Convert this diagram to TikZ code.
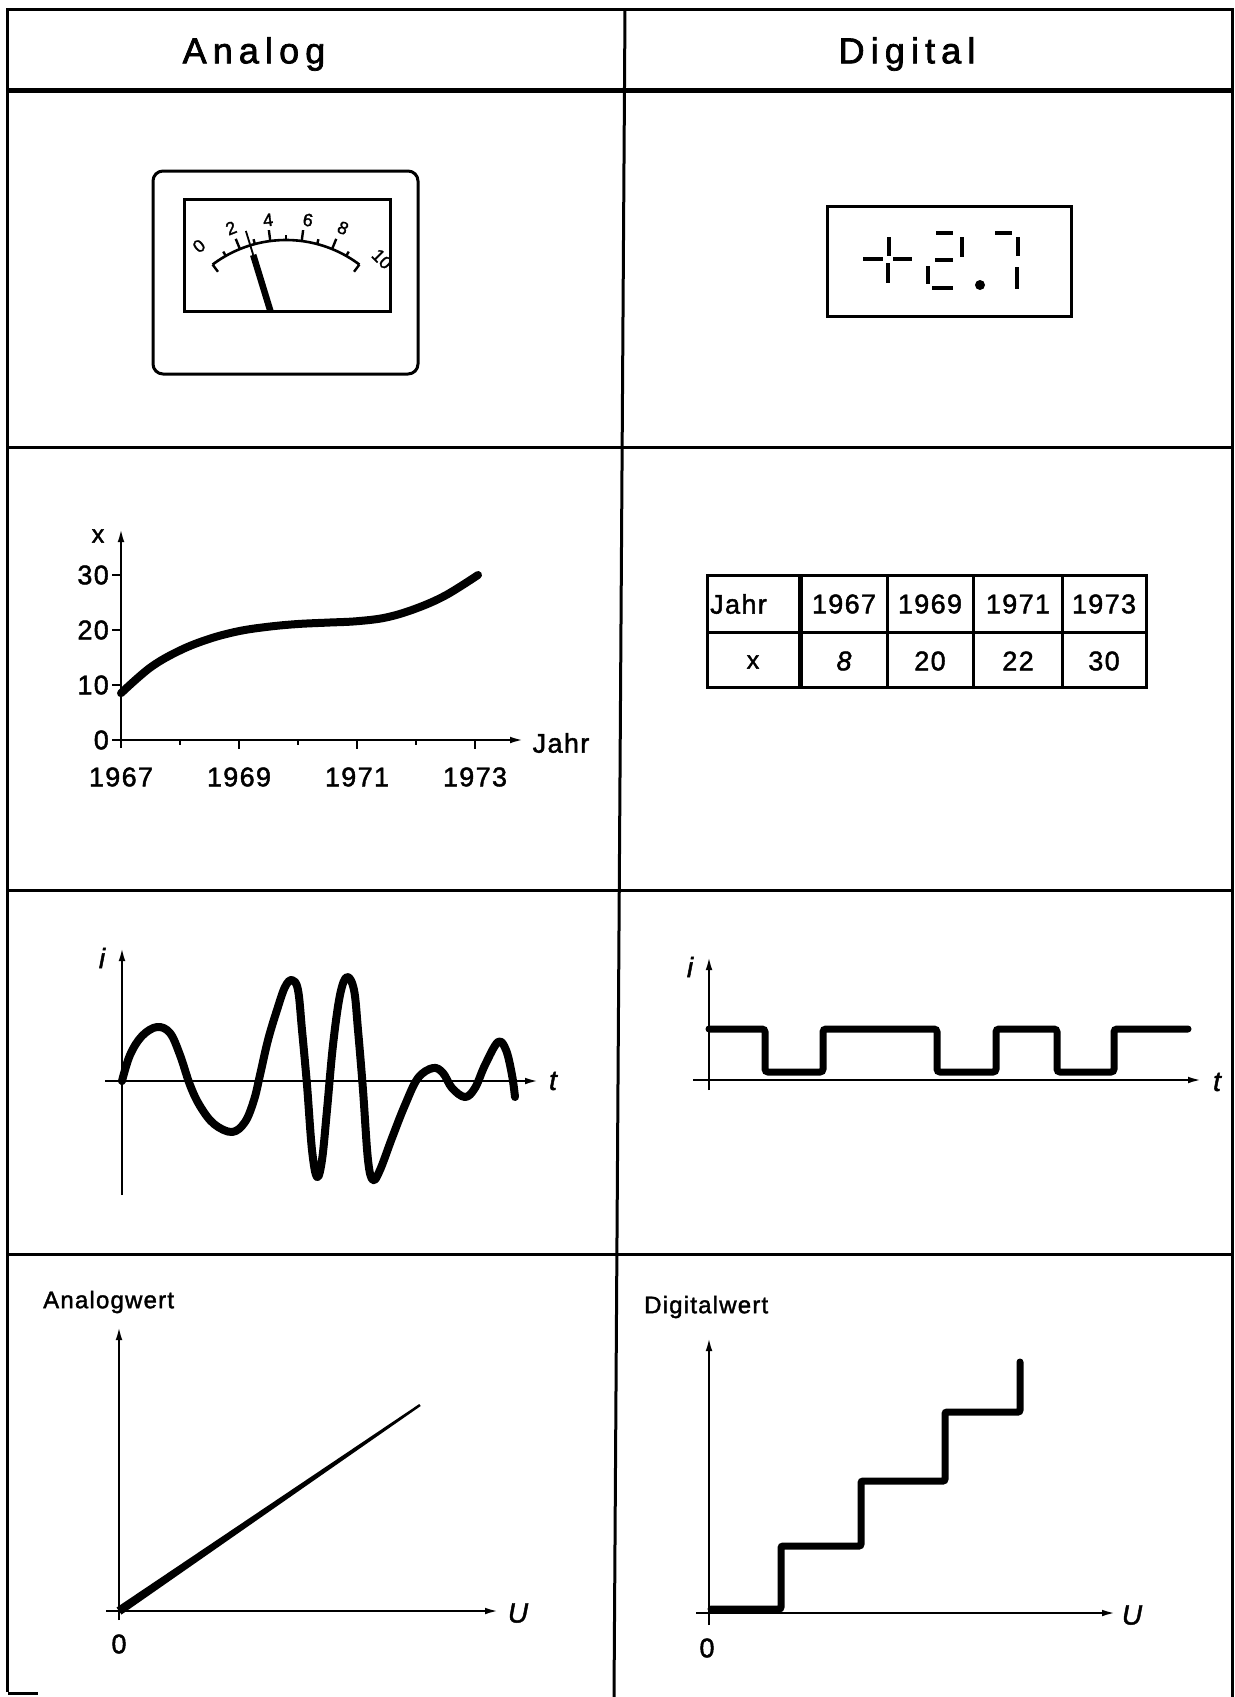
\documentclass[tikz,border=0pt]{standalone}
\usepackage{fontspec}
\setmainfont{Liberation Sans}[LetterSpace=5,FakeBold=1.6]
\newfontfamily\headfont{Liberation Sans}[LetterSpace=17,FakeBold=2]
\newfontfamily\meterfont{Liberation Sans}[FakeBold=1.6]
\usetikzlibrary{arrows.meta}
\begin{document}
\begin{tikzpicture}[x=1pt,y=-1pt,
 frame/.style={line width=3pt},
 axisline/.style={line width=2.6pt,-{Latex[length=15pt,width=6.5pt]}},
 plain/.style={line width=2.6pt},
 heavy/.style={line width=8pt,line cap=round,line join=round},
 seg/.style={line width=4.5pt},
 lbl/.style={font=\fontsize{27}{30}\selectfont,inner sep=0pt},
 ilbl/.style={font=\fontsize{28}{30}\selectfont\itshape,inner sep=0pt},
 head/.style={font=\headfont\fontsize{36}{40}\selectfont,inner sep=0pt},
 small/.style={font=\meterfont\fontsize{18}{19}\selectfont,inner sep=0pt}
]
\useasboundingbox (0,0) rectangle (1234,1697);
\fill[white] (0,0) rectangle (1234,1697);

% ---------- frame ----------
\coordinate (TL) at (7,9); \coordinate (TR) at (1232,9);
\coordinate (BL) at (7,1692); \coordinate (BR) at (1232,1697);
\coordinate (MT) at (625,9); \coordinate (MB) at (614,1697);
\draw[frame] (BL) -- (TL) -- (TR) -- (BR);
\draw[frame] (MT) -- (MB);
\draw[line width=5pt] (7,90) -- (1232,90);
\draw[frame] (7,447) -- (1232,447);
\draw[frame] (7,890) -- (1232,890);
\draw[frame] (7,1254) -- (1232,1254);
\draw[frame] (8,1693) -- (38,1693);

\node[head] (hA) at (254,54) {Analog};
\node[head] (hD) at (907,54) {Digital};

% ---------- meter ----------
\draw[frame,rounded corners=10pt] (153,171) rectangle (418,374);
\draw[frame] (184,199) rectangle (390,311);
\def\mcx{286}\def\mcy{362}\def\mR{122}
\draw[line width=2.6pt] plot[domain=-37:37,samples=50] ({\mcx+\mR*sin(\x)},{\mcy-\mR*cos(\x)});
\foreach \v in {1,...,9}{
  \pgfmathsetmacro\a{-37+7.4*\v}
  \pgfmathsetmacro\l{ifthenelse(mod(\v,2)==0,11,5)}
  \draw[line width=2.4pt] ({\mcx+\mR*sin(\a)},{\mcy-\mR*cos(\a)}) -- ({\mcx+(\mR+\l)*sin(\a)},{\mcy-(\mR+\l)*cos(\a)});
}
\foreach \a in {-37,37}{
  \draw[line width=2.4pt] ({\mcx+\mR*sin(\a)},{\mcy-\mR*cos(\a)}) -- ({\mcx+(\mR-9)*sin(\a)},{\mcy-(\mR-9)*cos(\a)});
}
\foreach \v/\px/\py/\r in {0/199/246/40,2/231/228/22,4/268/220/7,6/308/220/-9,8/343/228/-25,10/382/259/-45}{
  \node[small,rotate=\r] (m\v) at (\px,\py) {\v};
}
\pgfmathsetmacro\na{-37+7.4*2.7}
\draw[line width=1.8pt] ({\mcx+112*sin(\na)},{\mcy-112*cos(\na)}) -- ({\mcx+137*sin(\na)},{\mcy-137*cos(\na)});
\draw[line width=6.5pt] ({\mcx+112*sin(\na)},{\mcy-112*cos(\na)}) -- ({\mcx+53*sin(\na)},{\mcy-53*cos(\na)});

% ---------- digital display ----------
\draw[frame] (827,206) rectangle (1071,316);
% + sign
\draw[seg] (863,259) -- (883,259);
\draw[seg] (893,259) -- (912,259);
\draw[seg] (889,237) -- (889,256);
\draw[seg] (888,263) -- (888,283);
% 2
\draw[seg] (936,233) -- (953,233);
\draw[seg] (962,237) -- (962,257);
\draw[seg] (935,260) -- (953,260);
\draw[seg] (928,266) -- (928,284);
\draw[seg] (932,288) -- (953,288);
% dot
\fill (980,285) circle (5pt);
% 7
\draw[seg] (995,233) -- (1012,233);
\draw[seg] (1018,237) -- (1018,256);
\draw[seg] (1017,267) -- (1017,289);

% ---------- analog graph (years) ----------
\coordinate (ga0) at (121,748); \coordinate (ga1) at (121,527);
\coordinate (gb0) at (112,740); \coordinate (gb1) at (525,740);
\draw[axisline] (ga0) -- (ga1);
\draw[axisline] (gb0) -- (gb1);
\foreach \v in {0,10,20,30}{
  \draw[plain] (112,{740-5.5*\v}) -- (121,{740-5.5*\v});
  \node[lbl,anchor=east] (y\v) at (109,{740-5.5*\v}) {\v};
}
\foreach \k in {1,...,6}{
  \pgfmathsetmacro\l{ifthenelse(mod(\k,2)==0,9,5)}
  \draw[plain] ({121+59*\k},740) -- ({121+59*\k},{740+\l});
}
\foreach \k/\yr in {0/1967,2/1969,4/1971,6/1973}{
  \node[lbl] (x\yr) at ({121+59*\k},777) {\yr};
}
\node[font=\fontsize{25}{28}\selectfont,inner sep=0pt] (xl) at (98,536) {x};
\node[lbl] (jl) at (561,743) {Jahr};
\draw[heavy] plot[smooth,tension=0.6] coordinates {(121,693.2) (150.5,667.4) (180,650.4) (209.5,638.8) (239,631.1) (268.5,626.7) (298,624) (327.5,622.6) (357,621.2) (386.5,617.4) (416,608.5) (445.5,595.4) (478,575)};

% ---------- table ----------
\draw[frame] (707,575) rectangle (1146,687);
\draw[frame] (707,632) -- (1146,632);
\draw[line width=5pt] (800,575) -- (800,687);
\draw[frame] (887,575) -- (887,687);
\draw[frame] (973,575) -- (973,687);
\draw[frame] (1062,575) -- (1062,687);
\node[lbl,anchor=west] (tj) at (710,604) {Jahr};
\node[lbl] (t1) at (844,604) {1967};
\node[lbl] (t2) at (930,604) {1969};
\node[lbl] (t3) at (1018,604) {1971};
\node[lbl] (t4) at (1104,604) {1973};
\node[font=\fontsize{25}{28}\selectfont,inner sep=0pt] (tx) at (753,662) {x};
\node[lbl] (v1) at (844,661) {\itshape 8};
\node[lbl] (v2) at (930,661) {20};
\node[lbl] (v3) at (1018,661) {22};
\node[lbl] (v4) at (1104,661) {30};

% ---------- analog waveform ----------
\coordinate (wa0) at (122,1195); \coordinate (wa1) at (122,946);
\coordinate (wb0) at (105,1081); \coordinate (wb1) at (540,1081);
\draw[axisline] (wa0) -- (wa1);
\draw[axisline] (wb0) -- (wb1);
\node[ilbl] (wi) at (102,958) {i};
\node[ilbl] (wt) at (553,1081) {t};
\draw[heavy] plot[smooth,tension=0.6] coordinates {(122,1081) (130,1055) (142,1036) (157,1027) (170,1033) (180,1055) (190,1085) (200,1106) (214,1124) (232,1132) (245,1122) (254,1100) (260,1075) (268,1040) (277,1010) (285,987) (292,980) (298,990) (302,1030) (307,1085) (312,1150) (317,1177) (322,1160) (327,1110) (333,1045) (340,995) (347,977) (354,990) (358,1030) (363,1090) (368,1160) (373,1180) (380,1170) (392,1138) (405,1105) (418,1078) (433,1068) (443,1073) (452,1088) (465,1097) (475,1088) (485,1065) (498,1042) (506,1050) (512,1075) (515,1097)};

% ---------- digital waveform ----------
\coordinate (da0) at (709,1090); \coordinate (da1) at (709,955);
\coordinate (db0) at (693,1080); \coordinate (db1) at (1203,1080);
\draw[axisline] (da0) -- (da1);
\draw[axisline] (db0) -- (db1);
\node[ilbl] (di) at (690,967) {i};
\node[ilbl] (dt) at (1217,1082) {t};
\draw[line width=7pt,line cap=round,rounded corners=3pt] (709,1029) -- (765,1029) -- (765,1072) -- (823,1072) -- (823,1029) -- (937,1029) -- (937,1072) -- (996,1072) -- (996,1029) -- (1057,1029) -- (1057,1072) -- (1114,1072) -- (1114,1029) -- (1188,1029);

% ---------- analog characteristic ----------
\coordinate (aa0) at (119,1620); \coordinate (aa1) at (119,1325);
\coordinate (ab0) at (106,1611); \coordinate (ab1) at (500,1611);
\draw[axisline] (aa0) -- (aa1);
\draw[axisline] (ab0) -- (ab1);
\node[font=\fontsize{24}{26}\selectfont,inner sep=0pt,anchor=west] (aw) at (43,1302) {Analogwert};
\node[ilbl] (au) at (518,1613) {U};
\node[lbl] (a0) at (119,1644) {0};
\fill (121.5,1614.5) -- (116.5,1607.5) -- (419.3,1404) -- (420.7,1406) -- cycle;

% ---------- digital characteristic ----------
\coordinate (sa0) at (709,1625); \coordinate (sa1) at (709,1336);
\coordinate (sb0) at (696,1613); \coordinate (sb1) at (1117,1613);
\draw[axisline] (sa0) -- (sa1);
\draw[axisline] (sb0) -- (sb1);
\node[font=\fontsize{24}{26}\selectfont,inner sep=0pt,anchor=west] (dw) at (644,1307) {Digitalwert};
\node[ilbl] (du) at (1132,1615) {U};
\node[lbl] (d0) at (707,1648) {0};
\draw[line width=7pt,line cap=round,rounded corners=2pt] (711,1609) -- (781,1609) -- (781,1546) -- (861,1546) -- (861,1481) -- (945,1481) -- (945,1412) -- (1020,1412) -- (1020,1362);
\end{tikzpicture}
\end{document}
